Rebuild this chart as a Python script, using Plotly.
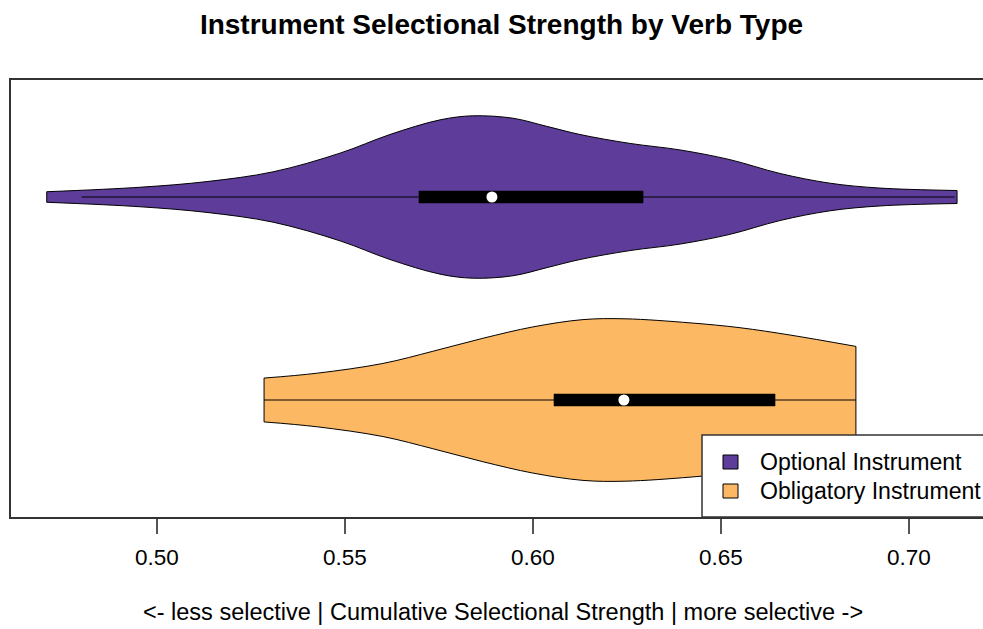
import plotly.graph_objects as go

# ---------------- data ----------------
groups = ["Optional Instrument", "Obligatory Instrument"]
positions = [2, 1]
fill_colors = ["#5E3C99", "#FDB863"]

# density profile (relative half-width, max = 1) along the x axis
opt_x = [0.4707, 0.4955, 0.5133, 0.5309, 0.5487, 0.5620, 0.5753, 0.5840, 0.5947,
         0.6037, 0.6125, 0.6258, 0.6391, 0.6524, 0.6657, 0.6790, 0.6923, 0.7128]
opt_density = [0.065, 0.12, 0.19, 0.31, 0.54, 0.77, 0.95, 1.0, 0.97,
               0.87, 0.77, 0.66, 0.58, 0.46, 0.29, 0.17, 0.11, 0.08]

obl_x = [0.5285, 0.5426, 0.5601, 0.5734, 0.5867, 0.6000, 0.6133, 0.6245,
         0.6418, 0.6551, 0.6684, 0.6859]
obl_density = [0.27, 0.33, 0.45, 0.60, 0.76, 0.90, 0.99, 1.0,
               0.95, 0.89, 0.80, 0.66]

# summary statistics
whisker_lo = [0.4800, 0.5285]
whisker_hi = [0.7122, 0.6859]
q1 = [0.5697, 0.6056]
q3 = [0.6293, 0.6644]
medians = [0.5891, 0.6242]

tick_vals = [0.50, 0.55, 0.60, 0.65, 0.70]
tick_text = ["0.50", "0.55", "0.60", "0.65", "0.70"]

title_text = "Instrument Selectional Strength by Verb Type"
xlab_text = "<- less selective | Cumulative Selectional Strength | more selective ->"

# ---------------- style ----------------
WEX = 0.4          # max half-width of a violin, in y units
BOX_HALF = 0.0296  # half thickness of the IQR box, in y units
FONT = "Liberation Sans, Arial, Helvetica, sans-serif"
FRAME = "#333333"

fig = go.Figure()

profiles = [(opt_x, opt_density), (obl_x, obl_density)]
for i, (xs, dens) in enumerate(profiles):
    c = positions[i]
    lower = [c - WEX * d for d in dens]
    upper = [c + WEX * d for d in dens]
    fig.add_trace(go.Scatter(x=xs, y=lower, mode="lines",
                             line=dict(color="black", width=1, shape="spline"),
                             showlegend=False, hoverinfo="skip"))
    fig.add_trace(go.Scatter(x=xs, y=upper, mode="lines", fill="tonexty",
                             fillcolor=fill_colors[i],
                             line=dict(color="black", width=1, shape="spline"),
                             showlegend=False, hoverinfo="skip"))
    # vertical end edges
    for j in (0, -1):
        fig.add_trace(go.Scatter(x=[xs[j], xs[j]], y=[lower[j], upper[j]], mode="lines",
                                 line=dict(color="black", width=1),
                                 showlegend=False, hoverinfo="skip"))
    # whisker line
    fig.add_trace(go.Scatter(x=[whisker_lo[i], whisker_hi[i]], y=[c, c], mode="lines",
                             line=dict(color="black", width=1),
                             showlegend=False, hoverinfo="skip"))
    # IQR box
    fig.add_trace(go.Scatter(x=[q1[i], q3[i], q3[i], q1[i], q1[i]],
                             y=[c - BOX_HALF, c - BOX_HALF, c + BOX_HALF, c + BOX_HALF, c - BOX_HALF],
                             mode="lines", fill="toself", fillcolor="black",
                             line=dict(color="black", width=0.5),
                             showlegend=False, hoverinfo="skip"))
    # median
    fig.add_trace(go.Scatter(x=[medians[i]], y=[c], mode="markers",
                             marker=dict(color="white", size=11, line=dict(width=0)),
                             showlegend=False, hoverinfo="skip"))

# ---------------- manual legend (bottom-right, partly clipped like the original) ----------------
# page-pixel geometry of the plot frame
L, T, B, W, H = 11, 80, 517, 972, 437
FIG_W, FIG_H = 983, 629

def px_x(p):
    return (p - L) / W

def px_y(p):
    return (B - p) / H

fig.add_shape(type="rect", xref="paper", yref="paper",
              x0=px_x(702), x1=1.06, y0=0, y1=px_y(435),
              fillcolor="white", line=dict(color=FRAME, width=1.5))
sq_tops = [455, 484]
txt_mid = [462, 491]
for i, g in enumerate(groups):
    fig.add_shape(type="rect", xref="paper", yref="paper",
                  x0=px_x(723), x1=px_x(738), y0=px_y(sq_tops[i] + 14), y1=px_y(sq_tops[i]),
                  fillcolor=fill_colors[i], line=dict(color="black", width=1))
    fig.add_annotation(text=g, xref="paper", yref="paper", x=px_x(758), y=px_y(txt_mid[i]),
                       xanchor="left", yanchor="middle", showarrow=False,
                       font=dict(family=FONT, size=23.1, color="black"))

# x axis title
fig.add_annotation(text=xlab_text, xref="paper", yref="paper", x=px_x(503.5), y=px_y(612),
                   xanchor="center", yanchor="middle", showarrow=False,
                   font=dict(family=FONT, size=23.5, color="black"))

fig.update_layout(
    width=FIG_W, height=FIG_H,
    margin=dict(l=L, r=0, t=T, b=FIG_H - B, pad=0),
    paper_bgcolor="white", plot_bgcolor="white",
    title=dict(text="<b>" + title_text + "</b>", xref="container", yref="container",
               x=501.5 / FIG_W, y=1 - 24 / FIG_H,
               xanchor="center", yanchor="middle",
               font=dict(family=FONT, size=28, color="black")),
    xaxis=dict(range=[0.4612, 0.4612 + 0.2585], showgrid=False, zeroline=False,
               showline=True, mirror=True, linecolor=FRAME, linewidth=2,
               ticks="outside", ticklen=15, tickwidth=1.5, tickcolor="#555555",
               ticklabelstandoff=4,
               tickvals=tick_vals, ticktext=tick_text,
               tickfont=dict(family=FONT, size=22.5, color="black")),
    yaxis=dict(range=[0.4236, 2.5764], showgrid=False, zeroline=False,
               showline=True, mirror=False, linecolor=FRAME, linewidth=2,
               showticklabels=False, ticks=""),
    showlegend=False,
)

# remove the default 8px page margin so the 983x629 figure fills the window exactly
fig.write_html("out.html",
               config={"displayModeBar": False},
               post_script="document.body.style.margin='0px';"
                           "document.body.style.overflow='hidden';")
